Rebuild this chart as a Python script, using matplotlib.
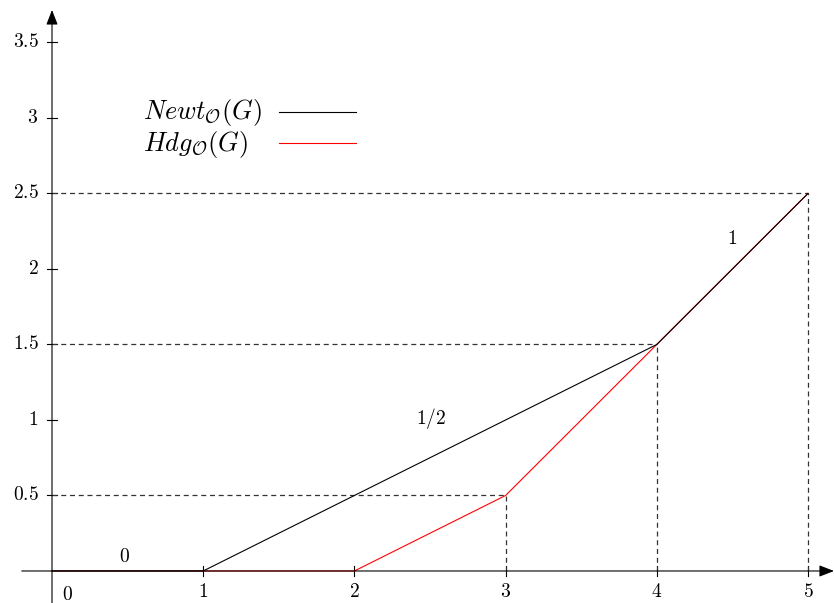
import matplotlib
matplotlib.use("Agg")
import matplotlib.pyplot as plt
from matplotlib.lines import Line2D

plt.rcParams["mathtext.fontset"] = "cm"
plt.rcParams["font.family"] = ["DejaVu Serif"]

# polygon data
newt_x = [0, 1, 4, 5]
newt_y = [0, 0, 1.5, 2.5]
hdg_x = [0, 2, 3, 4, 5]
hdg_y = [0, 0, 0.5, 1.5, 2.5]

# dashed guides go to these vertices
guide_x = [3, 4, 5]
guide_y = [0.5, 1.5, 2.5]

x_ticks = [1, 2, 3, 4, 5]
y_ticks = [0.5, 1, 1.5, 2, 2.5, 3, 3.5]

# slope labels
slope_text = ["0", "1/2", "1"]
slope_pos = [(0.48, 0.09), (2.51, 1.01), (4.5, 2.2)]

legend_labels = [r"$Newt_{\mathcal{O}}(G)$", r"$Hdg_{\mathcal{O}}(G)$"]
legend_colors = ["black", "red"]

fig = plt.figure(figsize=(8.34, 6.03), dpi=100)
ax = fig.add_axes([0, 0, 1, 1])
ax.set_xlim(-0.344, 5.172)
ax.set_ylim(-0.212, 3.781)
ax.axis("off")

# axes with arrows
ax.annotate("", xy=(5.172, 0), xytext=(-0.2, 0),
            arrowprops=dict(arrowstyle="-|>,head_length=0.9,head_width=0.35",
                            color="black", lw=0.8, shrinkA=0, shrinkB=0))
ax.annotate("", xy=(0, 3.715), xytext=(0, -0.212),
            arrowprops=dict(arrowstyle="-|>,head_length=0.9,head_width=0.35",
                            color="black", lw=0.8, shrinkA=0, shrinkB=0))

# ticks
tl = 0.03
for t in x_ticks:
    ax.plot([t, t], [-tl, tl], color="black", lw=0.8)
    ax.text(t, -0.08, "$%g$" % t, ha="center", va="top", fontsize=14)
for t in y_ticks:
    ax.plot([-tl, tl], [t, t], color="black", lw=0.8)
    ax.text(-0.09, t, "$%g$" % t, ha="right", va="center", fontsize=14)
ax.text(0.1, -0.1, "$0$", ha="center", va="top", fontsize=14)

# dashed guide lines
for gx, gy in zip(guide_x, guide_y):
    ax.plot([0, gx], [gy, gy], color="#333333", lw=0.9, ls=(0, (4, 3)))
    ax.plot([gx, gx], [0, gy], color="#333333", lw=0.9, ls=(0, (4, 3)))

ax.plot(hdg_x, hdg_y, color="red", lw=0.8)
ax.plot(newt_x, newt_y, color="black", lw=0.8)

for s, (sx, sy) in zip(slope_text, slope_pos):
    ax.text(sx, sy, "$%s$" % s, ha="center", va="center", fontsize=14)

# legend, drawn by hand so labels stay left aligned
for i, (lab, col) in enumerate(zip(legend_labels, legend_colors)):
    ty = 1 - (112 + 33 * i) / 603
    ly = 1 - (112 + 31 * i) / 603
    ax.text(143 / 834, ty, lab, transform=ax.transAxes, ha="left", va="center",
            fontsize=19)
    ax.add_line(Line2D([279 / 834, 356 / 834], [ly, ly], transform=ax.transAxes,
                       color=col, lw=0.8))

fig.savefig("out.png", dpi=100)
